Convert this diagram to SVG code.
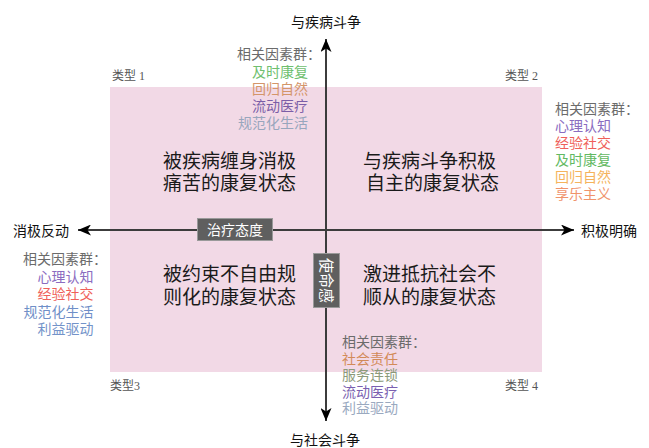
<svg xmlns="http://www.w3.org/2000/svg" width="649" height="448" viewBox="0 0 649 448">
<style>
text{font-family:"Noto Sans CJK SC","Liberation Sans",sans-serif;}
.ax{font-size:14px;fill:#111;}
.q{font-size:19px;fill:#1a1a1a;}
.f{font-size:14px;}
.h{fill:#6b6b6b;}
.t{font-size:12px;fill:#555;font-family:"Liberation Serif","Noto Sans CJK SC",serif;}
.lb{fill:#5f5f5f;stroke:#9a9a9a;stroke-width:1;}
.lt{font-size:14px;fill:#fff;text-anchor:middle;}
.axis{stroke:#3c3c3c;stroke-width:2;fill:none;marker-start:url(#ah);marker-end:url(#ah);}
</style>
<defs>
<marker id="ah" markerUnits="userSpaceOnUse" markerWidth="14" markerHeight="11" refX="13" refY="5.5" orient="auto-start-reverse" viewBox="0 0 14 11">
<path d="M0,0 L13,5.5 L0,11 L3.5,5.5 Z" fill="#000"/>
</marker>
</defs>
<rect id="field" x="110" y="87" width="432" height="285" fill="#f2d9e6"/>
<g id="connectors">
<line class="axis" x1="326" y1="421" x2="326" y2="39"/>
<line class="axis" x1="78" y1="230" x2="574" y2="230"/>
</g>
<g id="axis-labels">
<text class="ax" x="326" y="26.5" text-anchor="middle">与疾病斗争</text>
<text class="ax" x="325" y="445" text-anchor="middle">与社会斗争</text>
<text class="ax" x="13" y="235.5">消极反动</text>
<text class="ax" x="581" y="235.5">积极明确</text>
</g>
<g id="types">
<text class="t" x="112" y="79.5">类型 1</text>
<text class="t" x="505" y="79.5">类型 2</text>
<text class="t" x="110" y="389.5">类型3</text>
<text class="t" x="505" y="390">类型 4</text>
</g>
<g id="q1"><text class="q" x="163" y="168">被疾病缠身消极</text><text class="q" x="163" y="190">痛苦的康复状态</text></g>
<g id="q2"><text class="q" x="363" y="168">与疾病斗争积极</text><text class="q" x="366" y="190">自主的康复状态</text></g>
<g id="q3"><text class="q" x="163" y="281">被约束不自由规</text><text class="q" x="163" y="304">则化的康复状态</text></g>
<g id="q4"><text class="q" x="363" y="281">激进抵抗社会不</text><text class="q" x="363" y="304">顺从的康复状态</text></g>
<g id="factors-top" class="f">
<text class="h" x="237" y="59">相关因素群：</text>
<text x="308" y="77" text-anchor="end" fill="#6fbf6f">及时康复</text>
<text x="308" y="94" text-anchor="end" fill="#d4956a">回归自然</text>
<text x="308" y="111" text-anchor="end" fill="#7b5ea7">流动医疗</text>
<text x="308" y="128" text-anchor="end" fill="#98a6bd">规范化生活</text>
</g>
<g id="factors-right" class="f">
<text class="h" x="555" y="114">相关因素群：</text>
<text x="555" y="131" fill="#8a6cbf">心理认知</text>
<text x="555" y="148" fill="#ef5f5a">经验社交</text>
<text x="555" y="165" fill="#62b962">及时康复</text>
<text x="555" y="182" fill="#f5b35c">回归自然</text>
<text x="555" y="199" fill="#f0936b">享乐主义</text>
</g>
<g id="factors-left" class="f">
<text class="h" x="23" y="264">相关因素群：</text>
<text x="93.5" y="281.5" text-anchor="end" fill="#8b6cc0">心理认知</text>
<text x="93.5" y="299" text-anchor="end" fill="#ef5f5a">经验社交</text>
<text x="93.5" y="316.5" text-anchor="end" fill="#6f8fc8">规范化生活</text>
<text x="93.5" y="333.5" text-anchor="end" fill="#7393c9">利益驱动</text>
</g>
<g id="factors-bottom" class="f">
<text class="h" x="342" y="347">相关因素群：</text>
<text x="342" y="363.5" fill="#d28a58">社会责任</text>
<text x="342" y="380" fill="#8c9a7a">服务连锁</text>
<text x="342" y="396.5" fill="#7a5fb0">流动医疗</text>
<text x="342" y="413" fill="#9aa9bf">利益驱动</text>
</g>
<g id="label-attitude">
<rect class="lb" x="197.5" y="218.5" width="75" height="22"/>
<text class="lt" x="235" y="234.5">治疗态度</text>
</g>
<g id="label-mission">
<rect class="lb" x="313.5" y="253.5" width="26" height="54"/>
<text class="lt" transform="translate(326.5,280.5) rotate(90)" x="0" y="5.5" style="font-size:15px">使命感</text>
</g>
</svg>
